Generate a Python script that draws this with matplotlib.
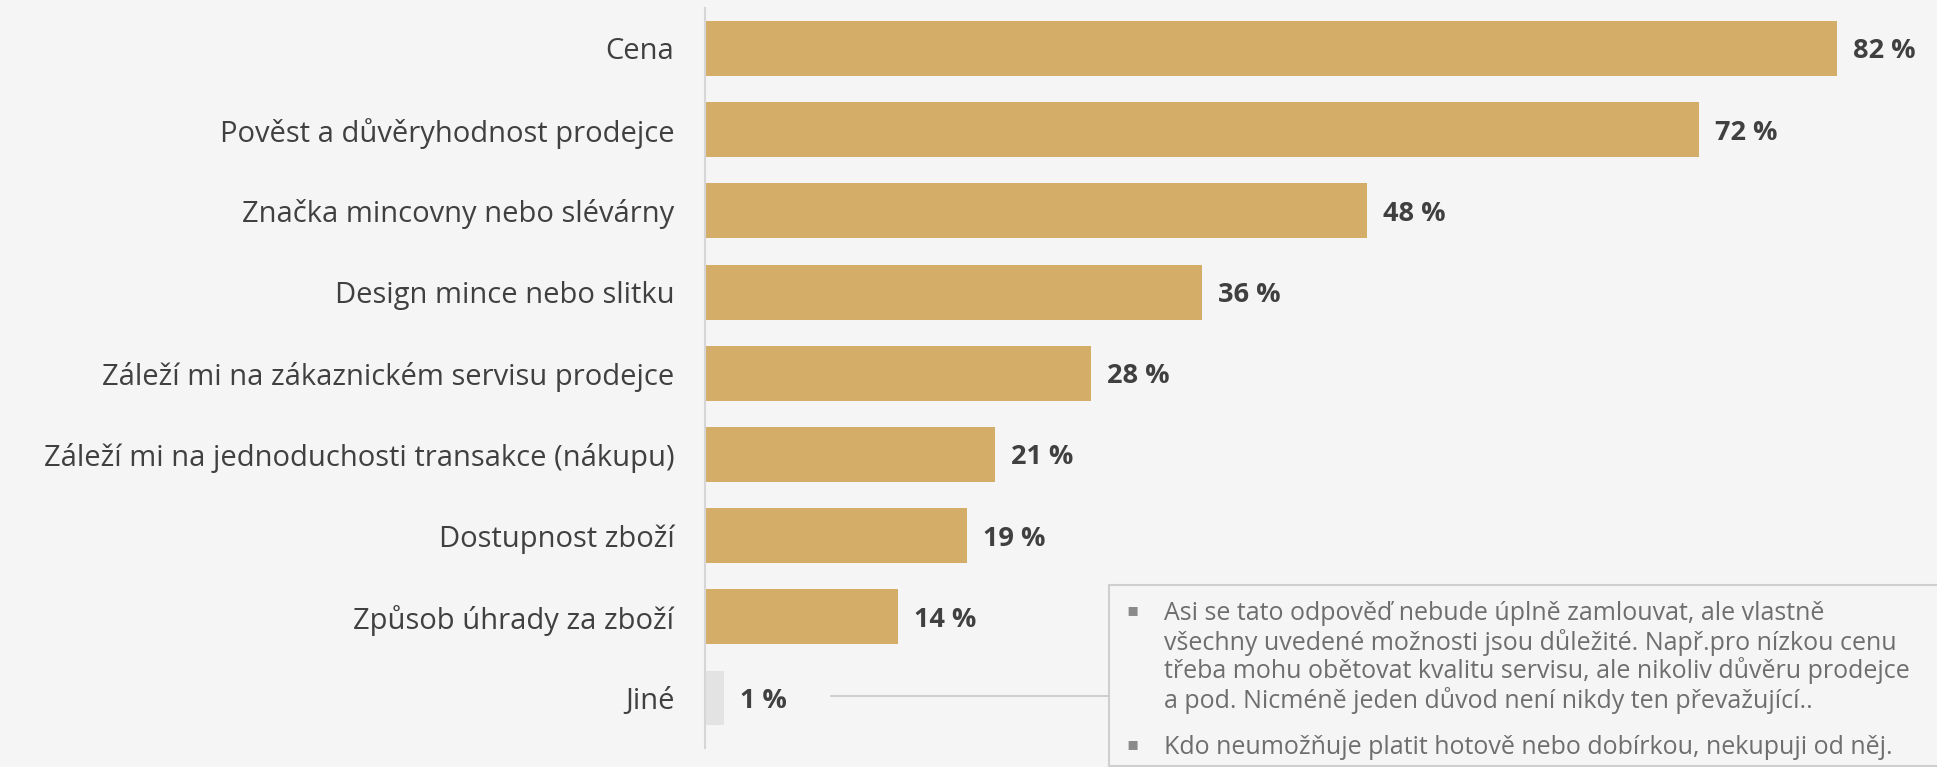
import matplotlib
matplotlib.use("Agg")
import matplotlib.pyplot as plt
from matplotlib.patches import Rectangle
from matplotlib.lines import Line2D

categories = [
    "Cena",
    "Pověst a důvěryhodnost prodejce",
    "Značka mincovny nebo slévárny",
    "Design mince nebo slitku",
    "Záleží mi na zákaznickém servisu prodejce",
    "Záleží mi na jednoduchosti transakce (nákupu)",
    "Dostupnost zboží",
    "Způsob úhrady za zboží",
    "Jiné",
]
values = [82, 72, 48, 36, 28, 21, 19, 14, 1.4]
value_labels = ["82 %", "72 %", "48 %", "36 %", "28 %", "21 %", "19 %", "14 %", "1 %"]
note_paragraphs = [
    ["Asi se tato odpověď nebude úplně zamlouvat, ale vlastně",
     "všechny uvedené možnosti jsou důležité. Např.pro nízkou cenu",
     "třeba mohu obětovat kvalitu servisu, ale nikoliv důvěru prodejce",
     "a pod. Nicméně jeden důvod není nikdy ten převažující.."],
    ["Kdo neumožňuje platit hotově nebo dobírkou, nekupuji od něj."],
]

BG = "#f5f5f5"
GOLD = "#d4ad68"
GREY_BAR = "#e3e3e3"
FONT = ["Open Sans", "DejaVu Sans"]
plt.rcParams["font.family"] = FONT

W, H = 1937, 767
fig = plt.figure(figsize=(W / 100, H / 100), dpi=100, facecolor=BG)

def fx(px):
    return px / W

def fy(py):
    return 1 - py / H

ax_left, ax_right = 705, 1937
ax_top, ax_bot = 8, 748
ax = fig.add_axes([fx(ax_left), fy(ax_bot), fx(ax_right - ax_left), (ax_bot - ax_top) / H])
ax.set_facecolor(BG)

px_per_unit = 13.8
ax.set_xlim(0, (ax_right - ax_left) / px_per_unit)
spacing = 81.2
ax.set_ylim(len(categories) - 1 + (ax_bot - 698) / spacing, -(48.5 - ax_top) / spacing)

colors = [GOLD] * (len(categories) - 1) + [GREY_BAR]
ypos = list(range(len(categories)))
ax.barh(ypos, values, height=0.677, color=colors, zorder=2)

for y, v, lab in zip(ypos, values, value_labels):
    ax.text(v + 16 / px_per_unit, y, lab, va="center_baseline", ha="left",
            fontsize=19.5, fontweight="bold", color="#404040")

ax.set_yticks(ypos)
ax.set_yticklabels(categories, fontsize=21, color="#404040")
ax.tick_params(axis="y", length=0, pad=22)
ax.set_xticks([])
for s in ["top", "right", "bottom"]:
    ax.spines[s].set_visible(False)
ax.spines["left"].set_color("#d6d6d6")
ax.spines["left"].set_linewidth(1.5)

# connector line
fig.add_artist(Line2D([fx(831), fx(1109)], [fy(696), fy(696)], color="#c8c8c8", lw=1.2))
# note box
fig.add_artist(Rectangle((fx(1109), fy(766)), fx(900), (766 - 585) / H,
                         facecolor=BG, edgecolor="#cfcfcf", lw=1.5))

note_color = "#6e6e6e"
para_tops = [610, 744]
line_step = 29
for top, para in zip(para_tops, note_paragraphs):
    fig.text(fx(1133), fy(top), "\u25aa", ha="center", va="center",
             fontsize=13, color="#8a8a8a", family=["DejaVu Sans"])
    for i, line in enumerate(para):
        fig.text(fx(1164), fy(top + i * line_step), line, ha="left", va="center_baseline",
                 fontsize=18, color=note_color)

fig.savefig("out.png", dpi=100, facecolor=BG)
